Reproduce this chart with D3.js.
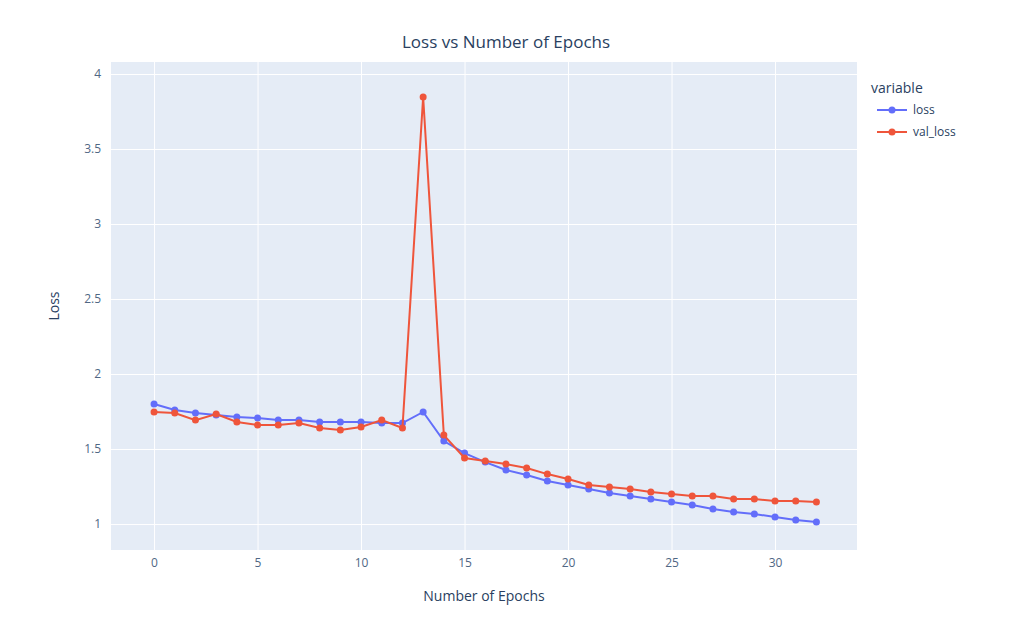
<!DOCTYPE html>
<html><head><meta charset="utf-8">
<script src="https://cdn.jsdelivr.net/npm/d3@7"></script>
<style>body{margin:0;background:#fff}text{font-family:"Open Sans",sans-serif;fill:#2a3f5f}</style>
</head><body><svg id="c" width="1013" height="633"></svg>
<script>
const epochs = d3.range(0, 33);
const loss = [1.80,1.76,1.74,1.727,1.713,1.707,1.693,1.693,1.68,1.68,1.68,1.673,1.673,1.747,1.553,1.473,1.413,1.36,1.327,1.287,1.26,1.233,1.207,1.187,1.167,1.147,1.127,1.10,1.08,1.067,1.047,1.027,1.013];
const valLoss = [1.747,1.74,1.693,1.733,1.68,1.66,1.66,1.673,1.64,1.627,1.647,1.693,1.64,3.847,1.593,1.44,1.42,1.40,1.373,1.333,1.30,1.26,1.247,1.233,1.213,1.20,1.187,1.187,1.167,1.167,1.153,1.153,1.147];
const xTicks = [0,5,10,15,20,25,30];
const yTicks = [1,1.5,2,2.5,3,3.5,4];
const series = [{name:"loss",values:loss,color:"#636efa"},{name:"val_loss",values:valLoss,color:"#EF553B"}];

const svg = d3.select("#c");
const L=111,R=857,T=62,B=550;
const x = d3.scaleLinear().domain([-2.08,33.96]).range([L,R]);
const y = d3.scaleLinear().domain([0.827,4.08]).range([B,T]);
svg.append("rect").attr("x",L).attr("y",T).attr("width",R-L).attr("height",B-T).attr("fill","#e5ecf6");
const gx = svg.append("g").attr("transform",`translate(0,${B})`)
  .call(d3.axisBottom(x).tickValues(xTicks).tickSize(-(B-T)).tickPadding(8));
const gy = svg.append("g").attr("transform",`translate(${L},0)`)
  .call(d3.axisLeft(y).tickValues(yTicks).tickFormat(d3.format("")).tickSize(-(R-L)).tickPadding(8));
[gx,gy].forEach(g=>{g.select(".domain").remove();
  g.selectAll("line").attr("stroke","#fff").attr("stroke-width",1);
  g.selectAll("text").style("font-size","12px").attr("fill","#506784").style("fill","#506784");});
gy.selectAll("text").attr("dx","-2");

const line = d3.line().x((d,i)=>x(epochs[i])).y(d=>y(d));
series.forEach(s=>{
  svg.append("path").datum(s.values).attr("d",line).attr("fill","none").attr("stroke",s.color).attr("stroke-width",2);
  svg.append("g").selectAll("circle").data(s.values).join("circle")
    .attr("cx",(d,i)=>x(epochs[i])).attr("cy",d=>y(d)).attr("r",3.5).attr("fill",s.color);
});

svg.append("text").attr("x",506).attr("y",48).attr("text-anchor","middle").style("font-size","17px").text("Loss vs Number of Epochs");
svg.append("text").attr("x",(L+R)/2).attr("y",601).attr("text-anchor","middle").style("font-size","14px").text("Number of Epochs");
svg.append("text").attr("transform",`translate(59,${(T+B)/2}) rotate(-90)`).attr("text-anchor","middle").style("font-size","14px").text("Loss");

const lg = svg.append("g").attr("transform","translate(871,0)");
lg.append("text").attr("x",0).attr("y",93).style("font-size","14px").text("variable");
series.forEach((s,i)=>{
  const yy = 110+i*22;
  lg.append("line").attr("x1",6).attr("x2",36).attr("y1",yy).attr("y2",yy).attr("stroke",s.color).attr("stroke-width",2);
  lg.append("circle").attr("cx",21).attr("cy",yy).attr("r",3.5).attr("fill",s.color);
  lg.append("text").attr("x",42).attr("y",yy+4).style("font-size","12px").text(s.name);
});
</script></body></html>
